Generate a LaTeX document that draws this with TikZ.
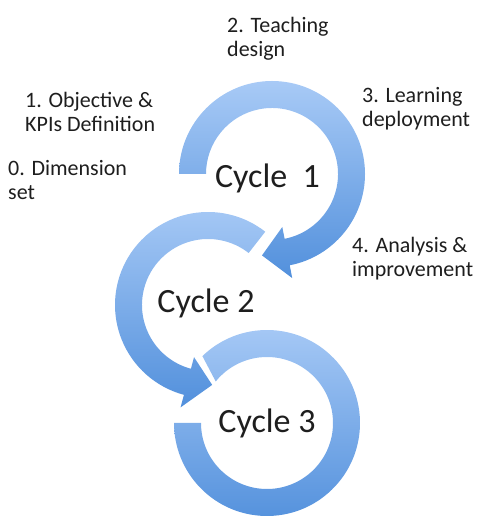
\documentclass[tikz,border=0pt]{standalone}
\usepackage{fontspec}
\setmainfont{Carlito}

\definecolor{ringtop}{RGB}{168,202,246}
\definecolor{ringbot}{RGB}{82,144,220}
\definecolor{txt}{RGB}{30,30,30}

\begin{document}
\begin{tikzpicture}[x=1pt,y=1pt,
  ring/.style={top color=ringtop,bottom color=ringbot,draw=none},
  steplabel/.style={anchor=north west,align=left,inner sep=0pt,text=txt,font=\fontsize{22}{24}\selectfont},
  cyclabel/.style={anchor=base,inner sep=0pt,text=txt,font=\fontsize{34}{40}\selectfont}]

\useasboundingbox (0,0) rectangle (477,516);

\coordinate (c1) at (272,342);
\coordinate (c2) at (208,211);
\coordinate (c3) at (267,93);

% cycle 3
\begin{scope}[shift={(c3)}]
\shade[ring] (134:93) arc[start angle=134,end angle=-180,radius=93]
  -- (-180:66) arc[start angle=-180,end angle=141,radius=66] -- cycle;
\end{scope}

% cycle 2
\begin{scope}[shift={(c2)}]
\shade[ring] (52:93) arc[start angle=52,end angle=255,radius=93]
  -- (255:106) -- (273:80) -- (255:54)
  -- (255:66) arc[start angle=255,end angle=52,radius=66] -- cycle;
\end{scope}

% cycle 1
\begin{scope}[shift={(c1)}]
\shade[ring] (180:93) arc[start angle=180,end angle=-79,radius=93]
  -- (-79:106) -- (-97:82) -- (-79:54)
  -- (-79:66) arc[start angle=-79,end angle=180,radius=66] -- cycle;
\end{scope}

\node[cyclabel] (cyc1) at (267.5,328) {Cycle\ \ 1};
\node[cyclabel] (cyc2) at (206,203) {Cycle 2};
\node[cyclabel] (cyc3) at (267,83) {Cycle 3};

\node[steplabel] (step0) at (8,356) {0. Dimension\\set};
\node[steplabel] (step1) at (25,424) {1. Objective \&\\KPIs Definition};
\node[steplabel] (step2) at (227,499) {2. Teaching\\design};
\node[steplabel] (step3) at (362,429) {3. Learning\\deployment};
\node[steplabel] (step4) at (352,279) {4. Analysis \&\\improvement};

\end{tikzpicture}
\end{document}
